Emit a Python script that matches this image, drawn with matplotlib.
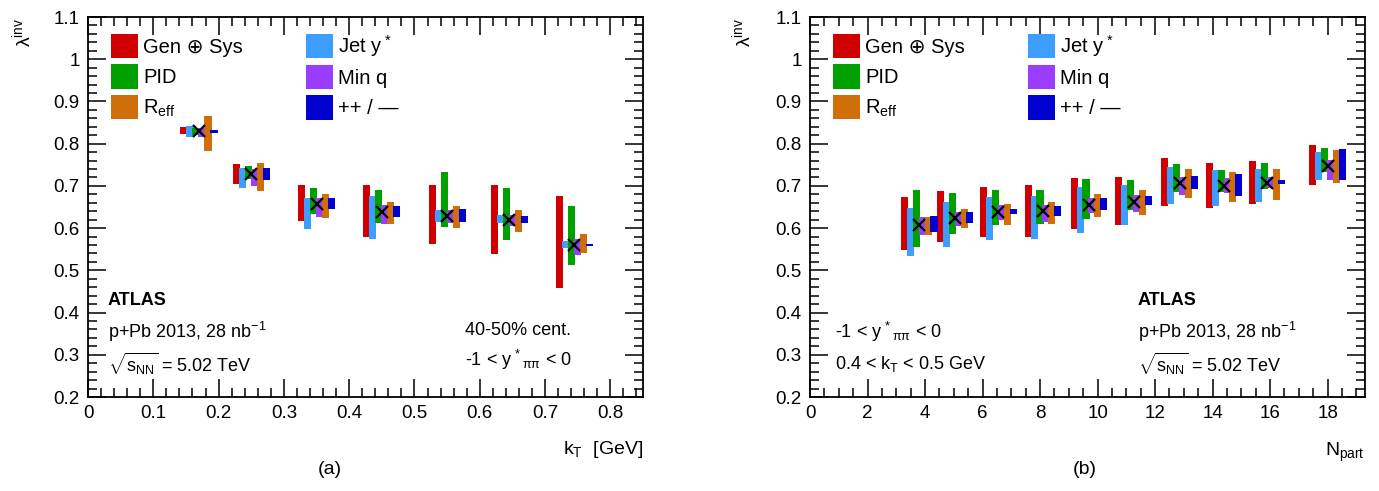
import matplotlib
matplotlib.use("Agg")
import matplotlib.pyplot as plt
from matplotlib.patches import Patch
from matplotlib.ticker import MultipleLocator, FuncFormatter
import numpy as np

plt.rcParams['font.family'] = ['Liberation Sans', 'DejaVu Sans']
plt.rcParams['mathtext.fontset'] = 'custom'
plt.rcParams['mathtext.rm'] = 'Liberation Sans'
plt.rcParams['mathtext.it'] = 'Liberation Sans:italic'
plt.rcParams['mathtext.bf'] = 'Liberation Sans:bold'

# ---------------- data: panel (a) vs kT ----------------
kt = [0.17, 0.25, 0.35, 0.45, 0.55, 0.645, 0.745]
lam_kt = [0.830, 0.728, 0.657, 0.637, 0.628, 0.620, 0.560]
kt_gen_lo = [0.822, 0.705, 0.617, 0.580, 0.562, 0.538, 0.458]
kt_gen_hi = [0.840, 0.752, 0.703, 0.702, 0.703, 0.702, 0.677]
kt_jet_lo = [0.815, 0.695, 0.597, 0.575, 0.614, 0.613, 0.553]
kt_jet_hi = [0.842, 0.743, 0.672, 0.677, 0.642, 0.630, 0.570]
kt_pid_lo = [0.820, 0.717, 0.633, 0.612, 0.603, 0.573, 0.512]
kt_pid_hi = [0.838, 0.747, 0.695, 0.690, 0.732, 0.695, 0.652]
kt_minq_lo = [0.815, 0.700, 0.627, 0.610, 0.612, 0.606, 0.537]
kt_minq_hi = [0.836, 0.740, 0.672, 0.655, 0.643, 0.630, 0.575]
kt_reff_lo = [0.782, 0.688, 0.625, 0.610, 0.601, 0.590, 0.540]
kt_reff_hi = [0.866, 0.755, 0.680, 0.662, 0.652, 0.642, 0.585]
kt_pm_lo = [0.826, 0.715, 0.645, 0.627, 0.615, 0.611, 0.557]
kt_pm_hi = [0.832, 0.742, 0.672, 0.652, 0.645, 0.628, 0.563]

# ---------------- data: panel (b) vs Npart ----------------
npart = [3.8, 5.05, 6.55, 8.1, 9.7, 11.25, 12.85, 14.4, 15.9, 18.0]
lam_np = [0.607, 0.624, 0.637, 0.640, 0.655, 0.663, 0.707, 0.699, 0.708, 0.748]
np_gen_lo = [0.548, 0.566, 0.578, 0.580, 0.598, 0.607, 0.653, 0.648, 0.656, 0.702]
np_gen_hi = [0.674, 0.688, 0.698, 0.702, 0.718, 0.722, 0.765, 0.755, 0.760, 0.798]
np_jet_lo = [0.533, 0.556, 0.572, 0.575, 0.588, 0.607, 0.656, 0.652, 0.663, 0.713]
np_jet_hi = [0.647, 0.662, 0.673, 0.677, 0.698, 0.702, 0.745, 0.738, 0.741, 0.780]
np_pid_lo = [0.556, 0.586, 0.607, 0.610, 0.622, 0.644, 0.686, 0.686, 0.693, 0.733]
np_pid_hi = [0.690, 0.684, 0.690, 0.690, 0.716, 0.715, 0.752, 0.738, 0.754, 0.790]
np_minq_lo = [0.584, 0.604, 0.619, 0.615, 0.636, 0.639, 0.679, 0.683, 0.694, 0.714]
np_minq_hi = [0.627, 0.639, 0.655, 0.655, 0.672, 0.679, 0.722, 0.718, 0.722, 0.762]
np_reff_lo = [0.584, 0.600, 0.608, 0.610, 0.626, 0.630, 0.671, 0.663, 0.667, 0.706]
np_reff_hi = [0.627, 0.645, 0.657, 0.663, 0.681, 0.690, 0.739, 0.734, 0.739, 0.785]
np_pm_lo = [0.591, 0.613, 0.633, 0.628, 0.642, 0.655, 0.693, 0.676, 0.705, 0.713]
np_pm_hi = [0.629, 0.639, 0.645, 0.653, 0.672, 0.675, 0.724, 0.728, 0.713, 0.788]

labels = ["Gen \u2295 Sys", "Jet y$^{\\,*}$", "PID", "Min q", "R$_{\\rm eff}$", "++ / \u2014"]
colors = ["#d00000", "#3d9eff", "#00a000", "#9b3dff", "#d06e0a", "#0000d0"]

fig = plt.figure(figsize=(13.79, 4.91), dpi=100)
axA = fig.add_axes([88/1379, 94/491, 555/1379, 380/491])
axB = fig.add_axes([810/1379, 94/491, 555/1379, 380/491])


def draw(ax, x, lam, lows, highs, step, width):
    x = np.asarray(x, dtype=float)
    offs = (np.arange(6) - 2.5) * step
    for i in range(6):
        lo = np.asarray(lows[i]); hi = np.asarray(highs[i])
        ax.bar(x + offs[i], hi - lo, bottom=lo, width=width, color=colors[i],
               edgecolor='none', zorder=2 + i * 0.1)
    ax.plot(x, lam, 'x', color='k', ms=9, mew=1.6, zorder=5)


draw(axA, kt, lam_kt,
     [kt_gen_lo, kt_jet_lo, kt_pid_lo, kt_minq_lo, kt_reff_lo, kt_pm_lo],
     [kt_gen_hi, kt_jet_hi, kt_pid_hi, kt_minq_hi, kt_reff_hi, kt_pm_hi],
     0.0092, 0.011)
draw(axB, npart, lam_np,
     [np_gen_lo, np_jet_lo, np_pid_lo, np_minq_lo, np_reff_lo, np_pm_lo],
     [np_gen_hi, np_jet_hi, np_pid_hi, np_minq_hi, np_reff_hi, np_pm_hi],
     0.205, 0.245)

fmt = FuncFormatter(lambda v, p: ('%g' % round(v, 3)))
for ax in (axA, axB):
    ax.set_ylim(0.2, 1.1)
    ax.yaxis.set_major_locator(MultipleLocator(0.1))
    ax.yaxis.set_minor_locator(MultipleLocator(0.02))
    ax.yaxis.set_major_formatter(fmt)
    ax.tick_params(which='both', direction='in', top=True, right=True, labelsize=13.5, width=1.1, pad=6)
    ax.tick_params(which='major', length=13)
    ax.tick_params(which='minor', length=6.5)
    for s in ax.spines.values():
        s.set_linewidth(1.3)

axA.set_xlim(0, 0.85)
axA.xaxis.set_major_locator(MultipleLocator(0.1))
axA.xaxis.set_minor_locator(MultipleLocator(0.02))
axA.xaxis.set_major_formatter(fmt)
axB.set_xlim(0, 19.3)
axB.xaxis.set_major_locator(MultipleLocator(2))
axB.xaxis.set_minor_locator(MultipleLocator(0.5))
axB.xaxis.set_major_formatter(fmt)

# legends
for ax in (axA, axB):
    handles = [Patch(facecolor=c, edgecolor='none') for c in colors]
    order = [0, 2, 4, 1, 3, 5]
    ax.legend([handles[i] for i in order], [labels[i] for i in order], ncol=2,
              loc='upper left', bbox_to_anchor=(0.02, 0.99), frameon=False,
              fontsize=14.5, handlelength=1.35, handleheight=1.5, handletextpad=0.25,
              labelspacing=0.3, columnspacing=3.1, borderaxespad=0.2)

TS = 13
PIPI = "$_{\\rm \u03c0\u03c0}$"
SQ = r"$\sqrt{{\rm s}_{\rm NN}}$ = 5.02 TeV"
# panel (a) texts
axA.text(0.036, 0.255, "ATLAS", transform=axA.transAxes, fontsize=TS, fontweight='bold', va='center')
axA.text(0.036, 0.172, "p+Pb 2013, 28 nb$^{-1}$", transform=axA.transAxes, fontsize=TS, va='center')
axA.text(0.036, 0.088, SQ, transform=axA.transAxes, fontsize=TS, va='center')
axA.text(0.679, 0.176, "40-50% cent.", transform=axA.transAxes, fontsize=TS, va='center')
axA.text(0.679, 0.097, "-1 < y$^{\\,*}$" + PIPI + " < 0", transform=axA.transAxes, fontsize=TS, va='center')

# panel (b) texts
axB.text(0.045, 0.172, "-1 < y$^{\\,*}$" + PIPI + " < 0", transform=axB.transAxes, fontsize=TS, va='center')
axB.text(0.045, 0.088, "0.4 < k$_{\\rm T}$ < 0.5 GeV", transform=axB.transAxes, fontsize=TS, va='center')
axB.text(0.591, 0.255, "ATLAS", transform=axB.transAxes, fontsize=TS, fontweight='bold', va='center')
axB.text(0.591, 0.172, "p+Pb 2013, 28 nb$^{-1}$", transform=axB.transAxes, fontsize=TS, va='center')
axB.text(0.591, 0.088, SQ, transform=axB.transAxes, fontsize=TS, va='center')

# axis titles
fig.text(22/1379, 1 - 18/491, "\u03bb$^{\\rm inv}$", rotation=90, ha='center', va='top', fontsize=14)
fig.text(742/1379, 1 - 18/491, "\u03bb$^{\\rm inv}$", rotation=90, ha='center', va='top', fontsize=14)
fig.text(643/1379, 1 - 450/491, "k$_{\\rm T}$  [GeV]", ha='right', va='center', fontsize=14)
fig.text(1365/1379, 1 - 452/491, "N$_{\\rm part}$", ha='right', va='center', fontsize=14)
fig.text(330/1379, 1 - 470/491, "(a)", ha='center', va='center', fontsize=14)
fig.text(1085/1379, 1 - 470/491, "(b)", ha='center', va='center', fontsize=14)

fig.savefig("out.png", dpi=100)
